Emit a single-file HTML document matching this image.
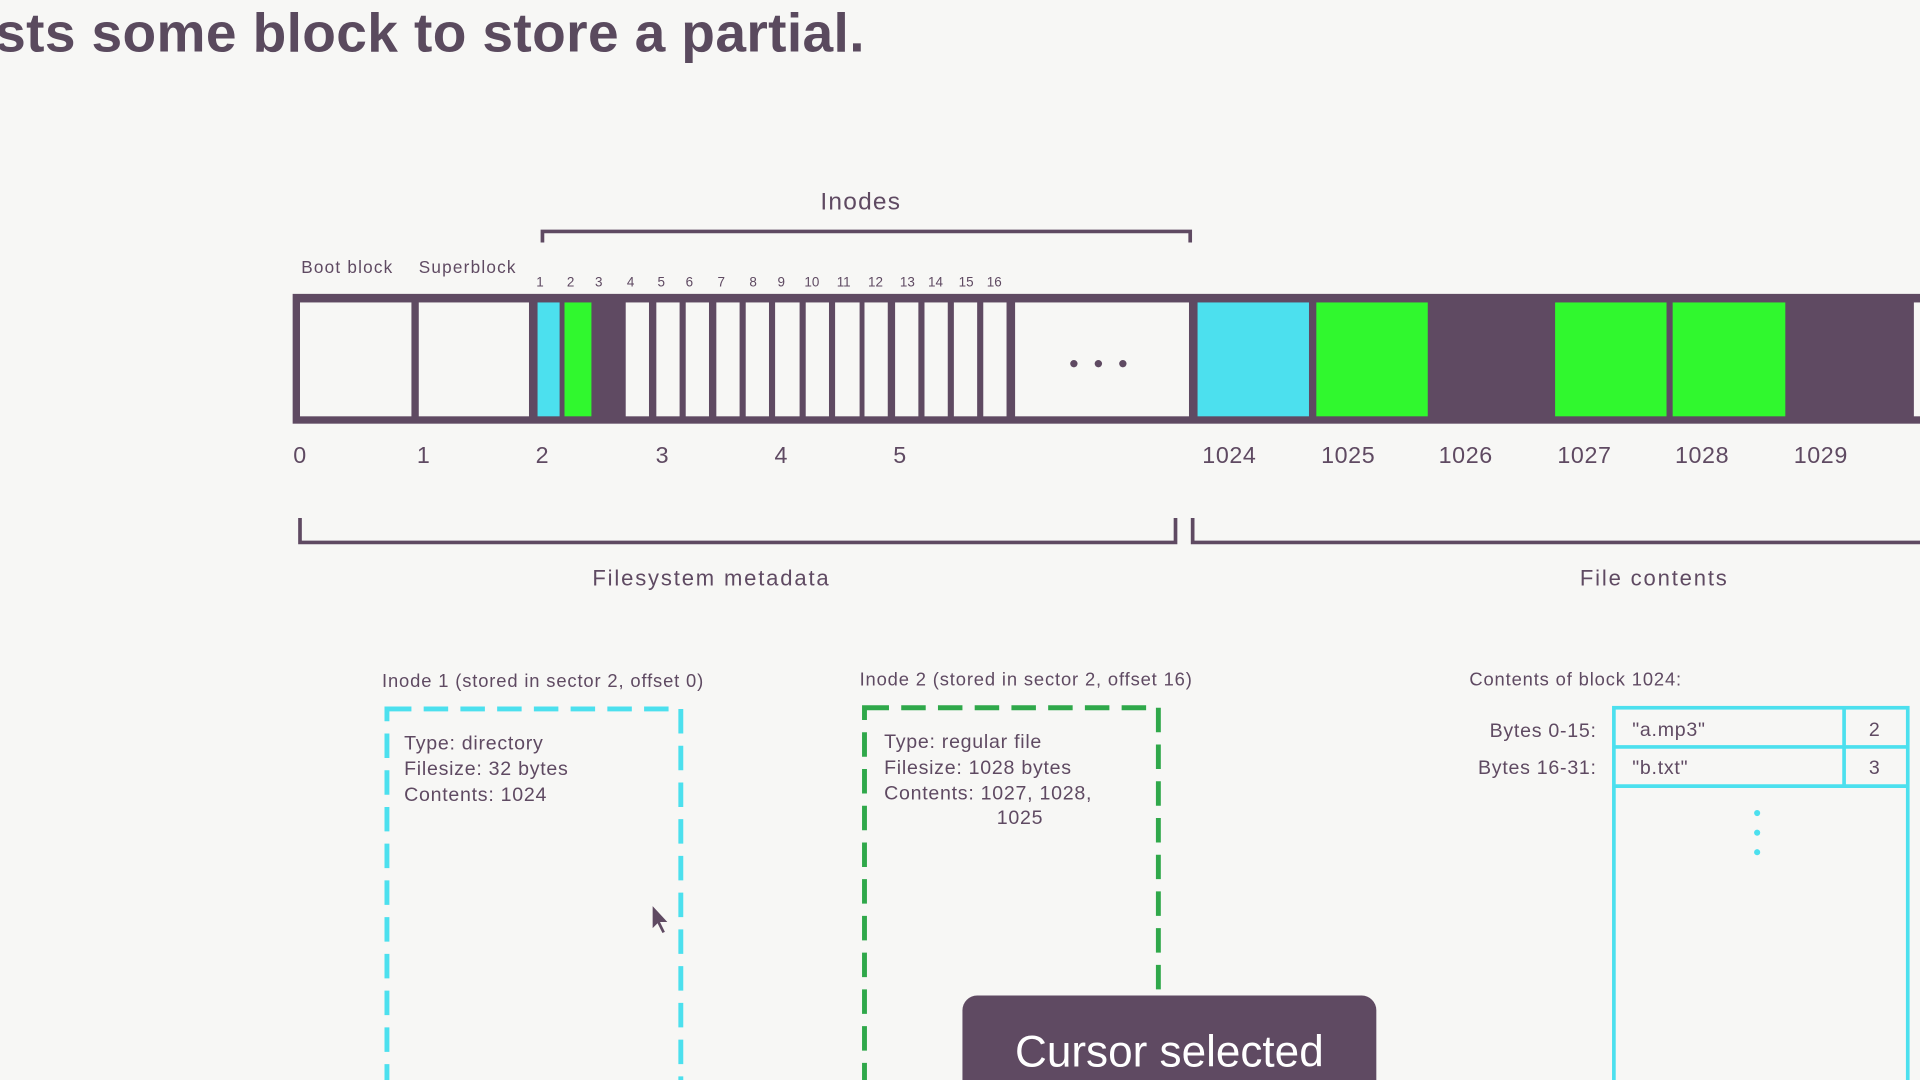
<!DOCTYPE html>
<html><head><meta charset="utf-8"><style>
html,body{margin:0;padding:0;background:#f7f7f5;overflow:hidden}
svg{display:block}
text{font-family:"Liberation Sans",sans-serif;fill:#5f4a62}
</style></head><body>
<svg width="1920" height="1080" viewBox="0 0 1568 882" preserveAspectRatio="none">
<rect width="1568" height="882" fill="#f7f7f5"/>
<text x="-4" y="42" font-size="45" font-weight="bold" style="fill:#5a4a5e" letter-spacing="0.3">sts some block to store a partial.</text>
<text x="703" y="171" font-size="20" text-anchor="middle" letter-spacing="1">Inodes</text>
<path d="M443 198 V189 H972 V198" fill="none" stroke="#5f4a62" stroke-width="3"/>
<text x="246" y="223" font-size="14" letter-spacing="1">Boot block</text>
<text x="342" y="223" font-size="14" letter-spacing="1">Superblock</text>
<g font-size="11" text-anchor="middle">
<text x="441" y="234">1</text><text x="466" y="234">2</text><text x="489" y="234">3</text><text x="515" y="234">4</text><text x="540" y="234">5</text><text x="563" y="234">6</text><text x="589" y="234">7</text><text x="615" y="234">8</text><text x="638" y="234">9</text><text x="663" y="234">10</text><text x="689" y="234">11</text><text x="715" y="234">12</text><text x="741" y="234">13</text><text x="764" y="234">14</text><text x="789" y="234">15</text><text x="812" y="234">16</text>
</g>
<rect x="239" y="240" width="1340" height="106" fill="#5f4a62"/>
<g fill="#f7f7f5">
<rect x="245" y="247" width="91" height="93"/><rect x="342" y="247" width="90" height="93"/>
<rect x="511" y="247" width="19" height="93"/><rect x="536" y="247" width="19" height="93"/><rect x="560" y="247" width="19" height="93"/><rect x="585" y="247" width="19" height="93"/><rect x="609" y="247" width="19" height="93"/><rect x="633" y="247" width="20" height="93"/><rect x="658" y="247" width="19" height="93"/><rect x="682" y="247" width="20" height="93"/><rect x="706" y="247" width="19" height="93"/><rect x="731" y="247" width="19" height="93"/><rect x="755" y="247" width="19" height="93"/><rect x="779" y="247" width="19" height="93"/><rect x="803" y="247" width="19" height="93"/>
<rect x="829" y="247" width="142" height="93"/><rect x="1563" y="247" width="10" height="93"/>
</g>
<rect x="439" y="247" width="18" height="93" fill="#4ce0ee"/>
<rect x="461" y="247" width="22" height="93" fill="#30f82e"/>
<rect x="978" y="247" width="91" height="93" fill="#4ce0ee"/>
<rect x="1075" y="247" width="91" height="93" fill="#30f82e"/>
<rect x="1270" y="247" width="91" height="93" fill="#30f82e"/>
<rect x="1366" y="247" width="92" height="93" fill="#30f82e"/>
<g fill="#5f4a62"><circle cx="877" cy="297" r="3"/><circle cx="897" cy="297" r="3"/><circle cx="917" cy="297" r="3"/></g>
<g font-size="19" text-anchor="middle" letter-spacing="0.5">
<text x="245" y="378">0</text><text x="346" y="378">1</text><text x="443" y="378">2</text><text x="541" y="378">3</text><text x="638" y="378">4</text><text x="735" y="378">5</text>
<text x="1004" y="378">1024</text><text x="1101" y="378">1025</text><text x="1197" y="378">1026</text><text x="1294" y="378">1027</text><text x="1390" y="378">1028</text><text x="1487" y="378">1029</text>
</g>
<path d="M245 423 V443 H960 V423" fill="none" stroke="#5f4a62" stroke-width="3"/>
<path d="M974 423 V443 H1570" fill="none" stroke="#5f4a62" stroke-width="3"/>
<text x="581" y="478" font-size="18" text-anchor="middle" letter-spacing="1.5">Filesystem metadata</text>
<text x="1351" y="478" font-size="18" text-anchor="middle" letter-spacing="1.5">File contents</text>
<g letter-spacing="0.7">
<text x="312" y="561" font-size="15">Inode 1 (stored in sector 2, offset 0)</text>
<text x="702" y="560" font-size="15">Inode 2 (stored in sector 2, offset 16)</text>
<text x="1200" y="560" font-size="15">Contents of block 1024:</text>
</g>
<rect x="316" y="579" width="240" height="320" fill="none" stroke="#4ce0ee" stroke-width="4" stroke-dasharray="20 10"/>
<rect x="706" y="578" width="240" height="320" fill="none" stroke="#2fa84a" stroke-width="4" stroke-dasharray="20 10"/>
<g font-size="16" letter-spacing="0.6">
<text x="330" y="612">Type: directory</text><text x="330" y="633">Filesize: 32 bytes</text><text x="330" y="654">Contents: 1024</text>
<text x="722" y="611">Type: regular file</text><text x="722" y="632">Filesize: 1028 bytes</text><text x="722" y="653">Contents: 1027, 1028,</text><text x="814" y="673">1025</text>
<text x="1304" y="602" text-anchor="end">Bytes 0-15:</text><text x="1304" y="632" text-anchor="end">Bytes 16-31:</text>
<text x="1333" y="601">"a.mp3"</text><text x="1333" y="632">"b.txt"</text>
<text x="1531" y="601" text-anchor="middle">2</text><text x="1531" y="632" text-anchor="middle">3</text>
</g>
<g fill="none" stroke="#4ce0ee" stroke-width="3">
<rect x="1318" y="578" width="240" height="320"/>
<path d="M1318 610 H1558 M1318 642 H1558 M1506 578 V642"/>
</g>
<g fill="#4ce0ee"><circle cx="1435" cy="664" r="2.5"/><circle cx="1435" cy="680" r="2.5"/><circle cx="1435" cy="696" r="2.5"/></g>
<path d="M533 740 L533 758 L537 754 L541 762 L543 761 L539 753 L545 753 Z" fill="#5f4a62"/>
<rect x="786" y="813" width="338" height="100" rx="12" fill="#5f4a62"/>
<text x="955" y="871" font-size="36" text-anchor="middle" style="fill:#ffffff">Cursor selected</text>
</svg>
</body></html>
